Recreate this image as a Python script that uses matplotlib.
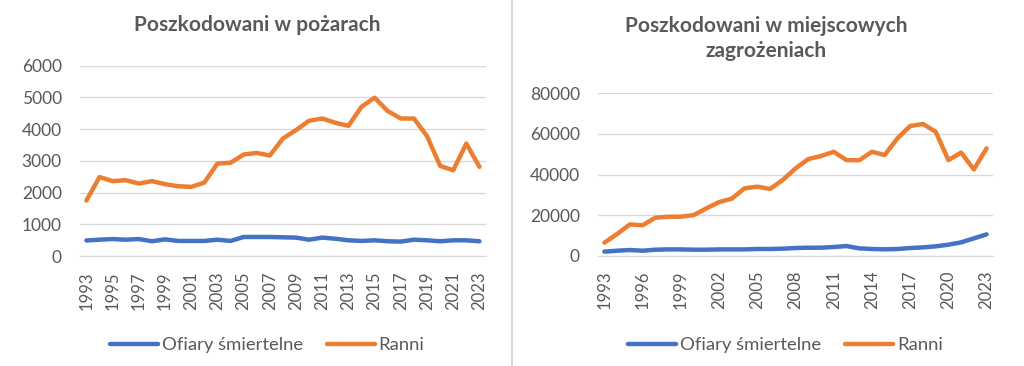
import matplotlib.pyplot as plt
from matplotlib.lines import Line2D

plt.rcParams['font.family'] = ['Lato', 'DejaVu Sans']

years = list(range(1993, 2024))

# Poszkodowani w pożarach
fire_dead = [490, 515, 535, 515, 535, 465, 525, 475, 475, 475, 515, 475, 600, 600, 600,
             590, 580, 515, 580, 545, 495, 475, 495, 465, 455, 515, 495, 465, 495, 495, 465]
fire_injured = [1750, 2490, 2360, 2390, 2285, 2360, 2265, 2200, 2180, 2315, 2915, 2940,
                3200, 3250, 3170, 3705, 3970, 4265, 4335, 4200, 4105, 4705, 4990, 4570,
                4335, 4335, 3780, 2840, 2705, 3545, 2810]

# Poszkodowani w miejscowych zagrożeniach
local_dead = [2000, 2450, 2800, 2450, 2950, 3100, 3100, 2950, 2950, 3100, 3100, 3100,
              3300, 3300, 3450, 3780, 3940, 3940, 4270, 4760, 3610, 3290, 3120, 3290,
              3780, 4100, 4600, 5420, 6570, 8540, 10500]
local_injured = [6400, 10700, 15400, 15000, 18700, 19200, 19200, 20000, 23300, 26400,
                 28100, 33200, 34000, 32900, 37300, 43000, 47600, 49100, 51200, 47100,
                 47000, 51200, 49600, 57800, 63900, 64900, 61100, 47100, 50800, 42500, 52900]

labels = ['Ofiary śmiertelne', 'Ranni']
colors = ['#4472C4', '#ED7D31']
text_color = '#595959'
grid_color = '#D9D9D9'

fig = plt.figure(figsize=(10.24, 3.66), dpi=100)
ax1 = fig.add_axes([0.078, 0.3005, 0.3966, 0.52])
ax2 = fig.add_axes([0.584, 0.3014, 0.3857, 0.4436])


def style(ax, dead, injured, ymax, ystep, xstep, title, title_x, title_y, legend_x):
    idx = list(range(len(years)))
    ax.plot(idx, dead, color=colors[0], lw=3.2, label=labels[0], solid_capstyle='round')
    ax.plot(idx, injured, color=colors[1], lw=3.2, label=labels[1], solid_capstyle='round')
    ax.set_xlim(-0.5, len(years) - 0.5)
    ax.set_ylim(0, ymax)
    ax.set_yticks(range(0, ymax + 1, ystep))
    ax.set_xticks(idx[::xstep])
    ax.set_xticklabels([str(y) for y in years[::xstep]], rotation=90)
    ax.grid(axis='y', color=grid_color, lw=1)
    ax.set_axisbelow(True)
    for s in ['top', 'right', 'left']:
        ax.spines[s].set_visible(False)
    ax.spines['bottom'].set_color(grid_color)
    ax.tick_params(axis='both', length=0, colors=text_color)
    ax.tick_params(axis='y', labelsize=12.5, pad=13)
    ax.tick_params(axis='x', labelsize=12, pad=11)
    fig.text(title_x, title_y, title, ha='center', va='center', fontsize=15,
             fontweight='bold', color=text_color, linespacing=1.35)
    ax.legend(loc='center', bbox_to_anchor=(legend_x, 0.057), bbox_transform=fig.transFigure,
              ncol=2, frameon=False, fontsize=13.3, labelcolor=text_color,
              handlelength=2.6, handletextpad=0.2, columnspacing=1.3)


style(ax1, fire_dead, fire_injured, 6000, 1000, 2, 'Poszkodowani w pożarach',
      0.2515, 0.931, 0.261)
style(ax2, local_dead, local_injured, 80000, 20000, 3,
      'Poszkodowani w miejscowych\nzagrożeniach', 0.748, 0.895, 0.767)

fig.add_artist(Line2D([0.5, 0.5], [0, 1], color=grid_color, lw=1.5))

fig.savefig('out.png', dpi=100)
